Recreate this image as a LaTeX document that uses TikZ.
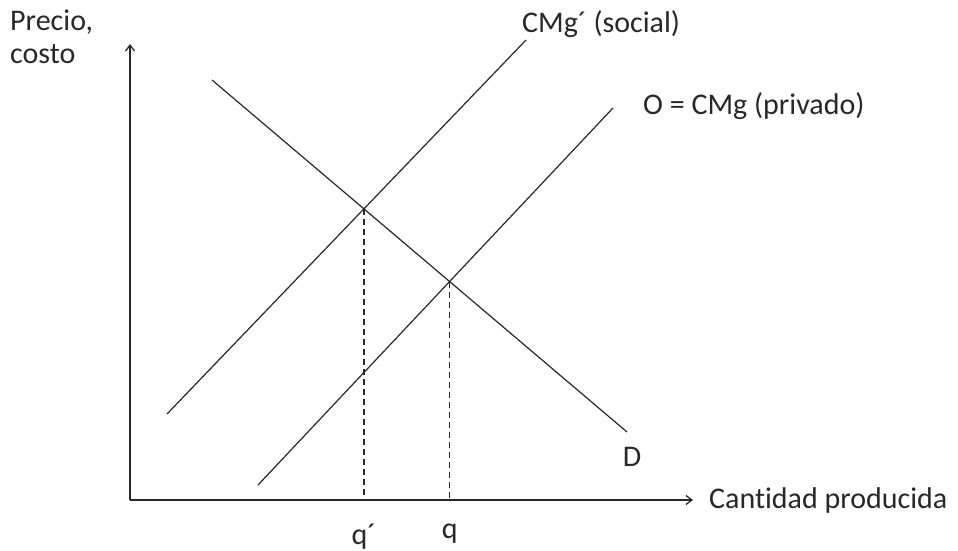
\documentclass[tikz,border=0pt]{standalone}
\usepackage{fontspec}
\setmainfont[Ligatures=NoCommon]{Carlito}
\usepackage{xcolor}
\usetikzlibrary{arrows.meta, positioning}
\definecolor{inkgray}{RGB}{40,40,40}

\begin{document}
\begin{tikzpicture}[
    x=1pt, y=-1pt,
    axis/.style={-{Straight Barb[length=6pt, width=9pt]}, line width=1.3pt, color=inkgray},
    curve/.style={line width=1.2pt, color=inkgray},
    guide/.style={dash pattern=on 6pt off 4pt, line width=1.2pt, color=inkgray},
    lbl/.style={font=\fontsize{30}{33}\selectfont, text=inkgray, inner sep=0pt},
  ]
  \useasboundingbox[fill=white] (0,0) rectangle (958,551);
  % axes
  \coordinate (orig) at (130,500);
  \coordinate (ytop) at (130,44);
  \coordinate (xend) at (693,500);
  \draw[axis] (orig) -- (ytop);
  \draw[axis] (orig) -- (xend);
  % curve ends
  \coordinate (dtop) at (212,80);
  \coordinate (dbot) at (627,432);
  \coordinate (stop) at (526,40);
  \coordinate (sbot) at (167,414);
  \coordinate (ptop) at (613,108);
  \coordinate (pbot) at (258,485);
  \draw[curve] (dtop) -- (dbot);
  \draw[curve] (sbot) -- (stop);
  \draw[curve] (pbot) -- (ptop);
  % equilibria
  \coordinate (esoc) at (intersection of dtop--dbot and sbot--stop);
  \coordinate (epriv) at (intersection of dtop--dbot and pbot--ptop);
  \coordinate (qs) at (orig -| esoc);
  \coordinate (qp) at (orig -| epriv);
  \draw[guide] (esoc) -- (qs);
  \draw[guide] (epriv) -- (qp);
  % labels
  \node[lbl, align=left, anchor=north west] (ylab) at (10,10) {Precio,\\costo};
  \node[lbl, right=16pt of xend] (xlab) {Cantidad producida};
  \node[lbl, below=24pt of qs] (qslab) {q´};
  \node[lbl, below=24pt of qp] (qplab) {q};
  \node[lbl, anchor=south west] (slab) at (522,38) {CMg´ (social)};
  \node[lbl, anchor=west] (plab) at (643,106) {O = CMg (privado)};
  \node[lbl, anchor=north] (dlab) at (632,447) {D};
\end{tikzpicture}
\end{document}
